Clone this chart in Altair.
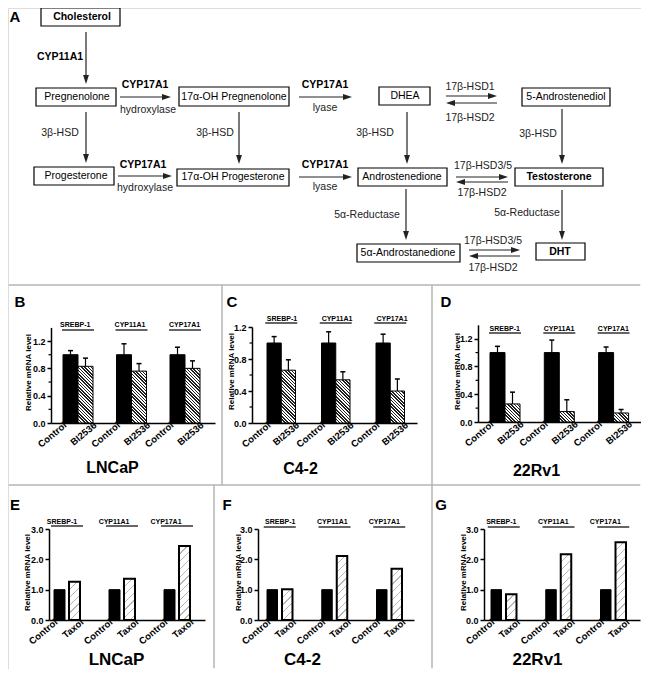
import math
import altair as alt
import pandas as pd

# ---------------- data ----------------
genes = ["SREBP-1", "CYP11A1", "CYP17A1"]

# panels B-D (BI2536), mean and upper error
lncap_bi_ctrl = [1.00, 1.00, 1.00]
lncap_bi_ctrl_err = [0.06, 0.16, 0.11]
lncap_bi = [0.83, 0.76, 0.80]
lncap_bi_err = [0.12, 0.11, 0.11]

c42_bi_ctrl = [1.00, 1.00, 1.00]
c42_bi_ctrl_err = [0.08, 0.14, 0.11]
c42_bi = [0.66, 0.54, 0.40]
c42_bi_err = [0.13, 0.10, 0.15]

rv1_bi_ctrl = [1.00, 1.00, 1.00]
rv1_bi_ctrl_err = [0.09, 0.18, 0.08]
rv1_bi = [0.26, 0.15, 0.13]
rv1_bi_err = [0.17, 0.17, 0.05]

# panels E-G (Taxol)
lncap_tx_ctrl = [1.00, 1.00, 1.00]
lncap_tx = [1.26, 1.36, 2.44]
c42_tx_ctrl = [1.00, 1.00, 1.00]
c42_tx = [1.01, 2.11, 1.69]
rv1_tx_ctrl = [1.00, 1.00, 1.00]
rv1_tx = [0.85, 2.17, 2.56]

ticks_bi = [0.0, 0.4, 0.8, 1.2]
minor_bi = [0.2, 0.6, 1.0]
ticks_tx = [0.0, 1.0, 2.0, 3.0]
y_title = "Relative mRNA level"

# pathway diagram (panel A)
node_labels = ["Cholesterol", "Pregnenolone", "17α-OH Pregnenolone", "DHEA",
               "5-Androstenediol", "Progesterone", "17α-OH Progesterone",
               "Androstenedione", "Testosterone", "5α-Androstanedione", "DHT"]
node_bold = [True, False, False, False, False, False, False, False, True, False, True]
edge_labels = ["CYP11A1", "CYP17A1", "hydroxylase", "CYP17A1", "lyase",
               "17β-HSD1", "17β-HSD2", "3β-HSD", "3β-HSD", "3β-HSD", "3β-HSD",
               "CYP17A1", "hydroxylase", "CYP17A1", "lyase",
               "17β-HSD3/5", "17β-HSD2", "5α-Reductase", "5α-Reductase",
               "17β-HSD3/5", "17β-HSD2"]
edge_bold = [True, True, False, True, False, False, False, False, False, False, False,
             True, False, True, False, False, False, False, False, False, False]
panel_letters = ["A", "B", "C", "D", "E", "F", "G"]

# ---------------- layout (reference pixel coords) ----------------
OFF = 8
W, H = 633, 661
FONT = "Liberation Sans"

NODE_POS = [  # x0, x1, y0, y1, text x, text y
    (41, 120, 8, 26, 82, 17), (36, 116, 88, 106, 77, 97), (179, 289, 87, 106, 234, 97),
    (379, 430, 87, 105, 405, 96), (522, 610, 88, 106, 566, 97), (34, 114, 167, 185, 76, 176),
    (177, 289, 169, 186, 233, 177), (358, 447, 168, 186, 402, 177), (515, 603, 168, 186, 559, 177),
    (357, 460, 244, 262, 408, 253), (536, 585, 243, 260, 560, 252)]
EDGE_POS = [(60, 57), (145, 85), (148, 110), (325, 85), (325, 108), (470, 87), (470, 118),
            (60, 133), (215, 133), (375, 133), (538, 134), (143, 165), (145, 188),
            (325, 165), (325, 187), (483, 166), (482, 193), (367, 215), (527, 213),
            (493, 241), (493, 268)]
ARROWS = [(86, 32, 86, 84), (120, 97, 171, 97), (299, 97, 352, 97), (446, 96, 497, 96),
          (497, 103, 446, 103), (86, 112, 86, 163), (239, 112, 239, 164), (407, 112, 407, 164),
          (562, 109, 562, 164), (118, 176, 172, 176), (299, 177, 352, 177), (456, 177, 508, 177),
          (508, 182, 456, 182), (406, 189, 406, 240), (562, 190, 562, 240), (469, 250, 520, 250),
          (520, 256, 469, 256)]
LETTER_POS = [(15, 17), (20, 302), (232, 302), (446, 302), (15, 505), (227, 505), (441, 505)]
DIVIDERS = [(0, 285, 649, 285), (0, 485, 649, 485), (222, 285, 222, 485), (432, 285, 432, 485),
            (214, 485, 214, 677), (432, 485, 432, 677)]

BAR_LAYOUT = {
    "B": dict(xa=51, xe=215, first=63, step=53.5, group=30, gap=0, y0=423, ytop=327.4, ymax=1.4,
              tx=28, ty=372, cx=112, cy=467, cs=16, gy=325, ly=330, lab=426),
    "C": dict(xa=252, xe=417, first=267, step=54.5, group=28.5, gap=0, y0=423, ytop=327, ymax=1.2,
              tx=231, ty=371, cx=300, cy=468, cs=16, gy=319, ly=323, lab=426),
    "D": dict(xa=478, xe=641, first=490, step=54.3, group=30, gap=0, y0=422, ytop=324.8, ymax=1.4,
              tx=457, ty=371, cx=536, cy=470, cs=16, gy=329, ly=333, lab=425),
    "E": dict(xa=49, xe=205, first=54, step=55, group=26, gap=4, y0=620, ytop=529, ymax=3.0,
              tx=27, ty=572, cx=116, cy=659, cs=17, gy=522, ly=526, lab=623),
    "F": dict(xa=258, xe=414, first=267, step=54.75, group=25.5, gap=4.5, y0=620, ytop=529, ymax=3.0,
              tx=238, ty=572, cx=302, cy=659, cs=17, gy=522, ly=527, lab=623),
    "G": dict(xa=484, xe=640, first=491, step=54.75, group=25.5, gap=4.5, y0=620, ytop=529, ymax=3.0,
              tx=463, ty=572, cx=537, cy=659, cs=17, gy=522, ly=527, lab=623),
}

sx = alt.Scale(domain=[0, W], range=[0, W], nice=False, zero=False)
sy = alt.Scale(domain=[0, H], range=[0, H], nice=False, zero=False)


def DX(f):
    return alt.X(f, type="quantitative", scale=sx, axis=None)


def DY(f):
    return alt.Y(f, type="quantitative", scale=sy, axis=None)


# ---------------- diagram ----------------
nodes = pd.DataFrame([
    dict(label=l, bold=b, x0=p[0] - OFF, x1=p[1] - OFF, y0=p[2] - OFF, y1=p[3] - OFF,
         tx=p[4] - OFF, ty=p[5] - OFF)
    for l, b, p in zip(node_labels, node_bold, NODE_POS)])
edges = pd.DataFrame([dict(label=l, bold=b, tx=p[0] - OFF, ty=p[1] - OFF)
                      for l, b, p in zip(edge_labels, edge_bold, EDGE_POS)])

shaft_rows, head_rows = [], []
for x1, y1, x2, y2 in ARROWS:
    dx, dy = x2 - x1, y2 - y1
    L = math.hypot(dx, dy)
    ux, uy = dx / L, dy / L
    shaft_rows.append(dict(x=x1 - OFF, y=y1 - OFF, x2=x2 - ux * 5 - OFF, y2=y2 - uy * 5 - OFF))
    d = "right" if ux > 0.5 else ("left" if ux < -0.5 else "down")
    head_rows.append(dict(x=x2 - ux * 4.5 - OFF, y=y2 - uy * 4.5 - OFF, dir=d))
shafts = pd.DataFrame(shaft_rows)
heads = pd.DataFrame(head_rows)


def cl(v, m):
    return min(max(v - OFF, 0.75), m - 0.75)


dividers = pd.DataFrame([dict(x=cl(x1, W), y=cl(y1, H), x2=cl(x2, W), y2=cl(y2, H))
                         for x1, y1, x2, y2 in DIVIDERS])
letters = pd.DataFrame([dict(label=l, tx=p[0] - OFF, ty=p[1] - OFF)
                        for l, p in zip(panel_letters, LETTER_POS)])

shape_scale = alt.Scale(domain=["right", "left", "down"],
                        range=["M1,0L-1,-0.65L-1,0.65Z", "M-1,0L1,-0.65L1,0.65Z",
                               "M0,1L-0.65,-1L0.65,-1Z"])

units = []
units.append(alt.Chart(dividers).mark_rule(color="#b4b4b4", strokeWidth=1.5).encode(
    x=DX("x"), y=DY("y"), x2=alt.X2("x2"), y2=alt.Y2("y2")))
units.append(alt.Chart(nodes).mark_rect(fill="white", stroke="black", strokeWidth=1.2).encode(
    x=DX("x0"), x2=alt.X2("x1"), y=DY("y0"), y2=alt.Y2("y1")))
units.append(alt.Chart(nodes[~nodes.bold]).mark_text(
    fontSize=10.5, font=FONT, color="black").encode(x=DX("tx"), y=DY("ty"), text="label:N"))
units.append(alt.Chart(nodes[nodes.bold]).mark_text(
    fontSize=10.5, font=FONT, fontWeight="bold", color="black").encode(
    x=DX("tx"), y=DY("ty"), text="label:N"))
units.append(alt.Chart(edges[~edges.bold]).mark_text(
    fontSize=10.5, font=FONT, color="#222").encode(x=DX("tx"), y=DY("ty"), text="label:N"))
units.append(alt.Chart(edges[edges.bold]).mark_text(
    fontSize=10.5, font=FONT, fontWeight="bold", color="black").encode(
    x=DX("tx"), y=DY("ty"), text="label:N"))
units.append(alt.Chart(shafts).mark_rule(color="#222", strokeWidth=1.2).encode(
    x=DX("x"), y=DY("y"), x2=alt.X2("x2"), y2=alt.Y2("y2")))
units.append(alt.Chart(heads).mark_point(filled=True, size=81, opacity=1, color="#222").encode(
    x=DX("x"), y=DY("y"), shape=alt.Shape("dir:N", scale=shape_scale, legend=None)))
units.append(alt.Chart(letters).mark_text(
    fontSize=15, font=FONT, fontWeight="bold", color="black").encode(
    x=DX("tx"), y=DY("ty"), text="label:N"))


# ---------------- bar panels ----------------
def hatch_fill(w, h, period, frac, fg, bg, slash):
    a = (w + h) / (w * w + h * h)
    if slash:
        x1, y1, x2, y2 = 0, 0, a * w, a * h
    else:
        x1, y1, x2, y2 = 0, 1, a * w, 1 - a * h
    n = (w + h) / (math.sqrt(2) * period)
    stops = [{"offset": 0, "color": bg}]
    k = 0
    while k / n < 1:
        o0 = k / n
        o1 = min((k + frac) / n, 1)
        stops += [{"offset": o0, "color": bg}, {"offset": o0, "color": fg},
                  {"offset": o1, "color": fg}, {"offset": o1, "color": bg}]
        k += 1
    stops.append({"offset": 1, "color": bg})
    return {"gradient": "linear", "x1": x1, "y1": y1, "x2": x2, "y2": y2, "stops": stops}


def panel(letter, cell, trt_name, ctrl, trt, ctrl_err=None, trt_err=None, ticks=None,
          minor=None):
    Lo = BAR_LAYOUT[letter]
    rows = []
    for i, g in enumerate(genes):
        rows.append(dict(gene=g, treatment="Control", value=ctrl[i],
                         top=ctrl[i] + (ctrl_err[i] if ctrl_err else 0)))
        rows.append(dict(gene=g, treatment=trt_name, value=trt[i],
                         top=trt[i] + (trt_err[i] if trt_err else 0)))
    df = pd.DataFrame(rows)
    xa, xe = Lo["xa"] - OFF, Lo["xe"] - OFF
    s, bw = Lo["step"], Lo["group"]
    pi = 1 - bw / s
    po = ((xe - xa) / s - 3 + pi) / 2
    align = (Lo["first"] - Lo["xa"]) / ((xe - xa) - s * (3 - pi))

    def xscale():
        return alt.Scale(domain=genes, range=[xa, xe], paddingInner=pi, paddingOuter=po,
                         align=align)

    bar_w = (bw - Lo["gap"]) / 2
    pio = Lo["gap"] / (bar_w + Lo["gap"])

    def xoscale():
        return alt.Scale(domain=["Control", trt_name], paddingInner=pio, paddingOuter=0)

    y0, yt = Lo["y0"] - OFF, Lo["ytop"] - OFF

    def yscale():
        return alt.Scale(domain=[0, Lo["ymax"]], range=[y0, yt], nice=False, zero=True)

    xaxis = alt.Axis(orient="bottom", offset=y0 - H, labels=False, ticks=False, grid=False,
                     domainColor="black", domainWidth=1.5, title=cell,
                     titleFont=FONT, titleFontSize=Lo["cs"], titleFontWeight="bold",
                     titleColor="black", titleX=Lo["cx"] - OFF, titleY=Lo["cy"] - OFF - y0,
                     titleBaseline="middle", titleAlign="center")
    yaxis = alt.Axis(orient="left", offset=-xa, values=ticks, format=".1f", grid=False,
                     domainColor="black", domainWidth=1.5, tickColor="black", tickWidth=1.5,
                     tickSize=4, labelFont=FONT, labelFontSize=9, labelFontWeight="bold",
                     labelColor="black", labelPadding=2, title=y_title, titleFont=FONT,
                     titleFontSize=8, titleFontWeight="bold", titleColor="black",
                     titleAngle=270, titleX=Lo["tx"] - OFF - xa, titleY=Lo["ty"] - OFF,
                     titleBaseline="middle", titleAlign="center")

    def X(axis=None):
        return alt.X("gene:N", scale=xscale(), axis=axis)

    def XO():
        return alt.XOffset("treatment:N", scale=xoscale())

    def Y(field="value", axis=None):
        return alt.Y(field, type="quantitative", scale=yscale(), axis=axis)

    out = []
    ctrl_df = df[df.treatment == "Control"]
    out.append(alt.Chart(ctrl_df).mark_bar(fill="black", stroke="black", strokeWidth=1)
               .encode(x=X(xaxis), xOffset=XO(), y=Y(axis=yaxis)))
    taxol = trt_name == "Taxol"
    pix_per = (y0 - yt) / Lo["ymax"]
    for i, g in enumerate(genes):
        sub = df[(df.treatment == trt_name) & (df.gene == g)]
        h = max(trt[i] * pix_per, 1)
        if taxol:
            fill = hatch_fill(bar_w, h, 5.5, 0.16, "#b8b8b8", "white", True)
            mk = alt.Chart(sub).mark_bar(fill=fill, stroke="black", strokeWidth=2)
        else:
            fill = hatch_fill(bar_w, h, 2.3, 0.5, "#202020", "white", False)
            mk = alt.Chart(sub).mark_bar(fill=fill, stroke="black", strokeWidth=1)
        out.append(mk.encode(x=X(), xOffset=XO(), y=Y()))
    if ctrl_err:
        out.append(alt.Chart(df).mark_rule(color="black", strokeWidth=1.2).encode(
            x=X(), xOffset=XO(), y=Y(), y2=alt.Y2("top:Q")))
        out.append(alt.Chart(df).mark_tick(orient="horizontal", size=5, thickness=1.5,
                                           color="black", opacity=1).encode(
            x=X(), xOffset=XO(), y=Y("top")))
    if minor:
        mdf = pd.DataFrame({"m": minor})
        out.append(alt.Chart(mdf).mark_rule(color="black", strokeWidth=1.2).encode(
            x=alt.value(xa - 2.5), x2=alt.value(xa), y=Y("m")))
    gdf = pd.DataFrame({"gene": genes})
    out.append(alt.Chart(gdf).mark_text(font=FONT, fontSize=7, fontWeight="bold",
                                        color="black").encode(
        x=X(), y=alt.value(Lo["gy"] - OFF), text="gene:N"))
    out.append(alt.Chart(gdf).mark_tick(orient="horizontal", size=32, thickness=1.5,
                                        color="#333", opacity=1).encode(
        x=X(), y=alt.value(Lo["ly"] - OFF)))
    out.append(alt.Chart(df).mark_text(font=FONT, fontSize=9.5, fontWeight="bold",
                                       color="black", angle=320, align="right",
                                       baseline="middle", dx=3).encode(
        x=X(), xOffset=XO(), y=alt.value(Lo["lab"] - OFF), text="treatment:N"))
    return out


units += panel("B", "LNCaP", "BI2536", lncap_bi_ctrl, lncap_bi, lncap_bi_ctrl_err, lncap_bi_err,
               ticks_bi, minor_bi)
units += panel("C", "C4-2", "BI2536", c42_bi_ctrl, c42_bi, c42_bi_ctrl_err, c42_bi_err,
               ticks_bi, minor_bi)
units += panel("D", "22Rv1", "BI2536", rv1_bi_ctrl, rv1_bi, rv1_bi_ctrl_err, rv1_bi_err,
               ticks_bi, minor_bi)
units += panel("E", "LNCaP", "Taxol", lncap_tx_ctrl, lncap_tx, ticks=ticks_tx)
units += panel("F", "C4-2", "Taxol", c42_tx_ctrl, c42_tx, ticks=ticks_tx)
units += panel("G", "22Rv1", "Taxol", rv1_tx_ctrl, rv1_tx, ticks=ticks_tx)

chart = alt.layer(*units).resolve_scale(
    x="independent", y="independent", xOffset="independent", shape="independent"
).resolve_axis(x="independent", y="independent").properties(
    width=W, height=H, autosize=alt.AutoSizeParams(type="none"), padding=0,
    background="white"
).configure_view(stroke=None).configure(font=FONT)

chart.save("out.html", embed_options={"renderer": "svg", "actions": False})
